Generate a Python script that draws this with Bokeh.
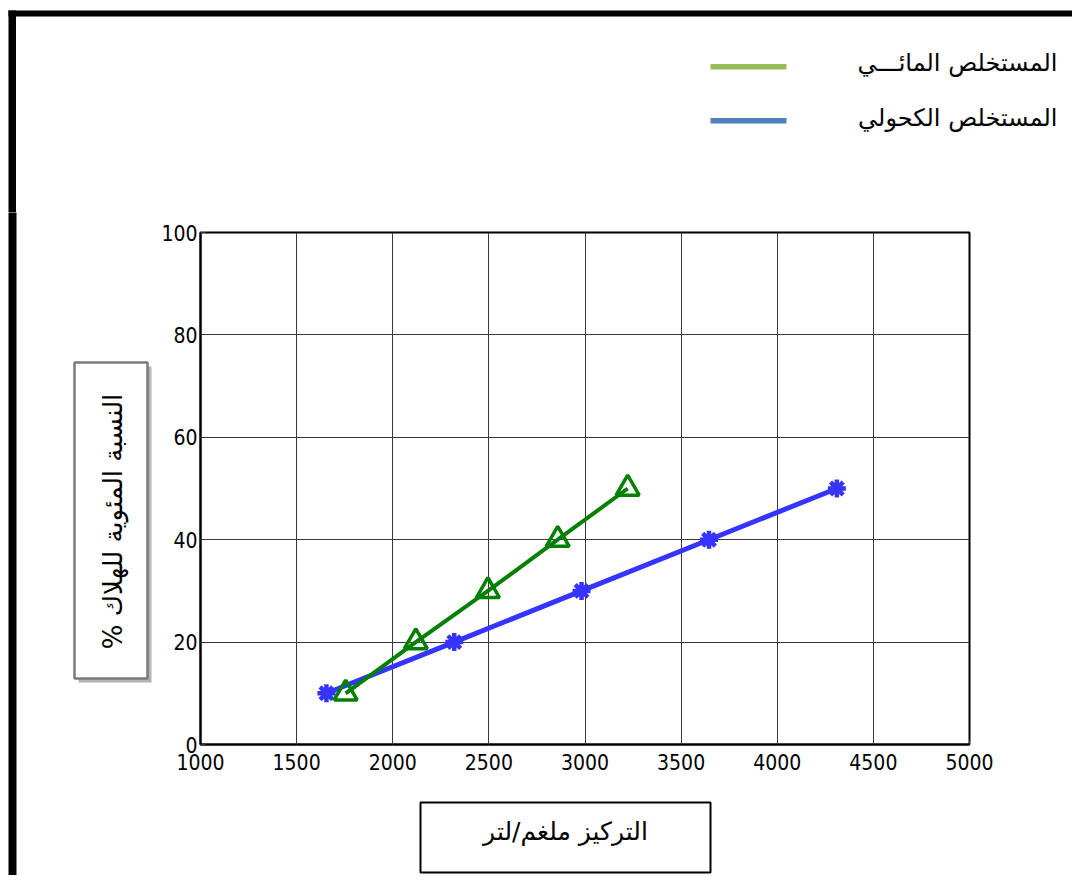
from bokeh.plotting import figure
from bokeh.layouts import column, row
from bokeh.models import Range1d, FixedTicker
from bokeh.core.properties import value
from bokeh.embed import file_html
from bokeh.resources import INLINE

# ---- data ----
aqueous_conc = [1755, 2120, 2495, 2858, 3222]
aqueous_mort = [10, 20, 30, 40, 50]
alcohol_conc = [1655, 2320, 2982, 3645, 4310]
alcohol_mort = [10, 20, 30, 40, 50]
x_ticks = [1000, 1500, 2000, 2500, 3000, 3500, 4000, 4500, 5000]
y_ticks = [0, 20, 40, 60, 80, 100]
legend_labels = ["المستخلص المائـــي", "المستخلص الكحولي"]
legend_colors = ["#9BBB59", "#4F81BD"]
x_title = "التركيز ملغم/لتر"
y_title = "النسبة المئوية للهلاك %\u200f"

W, H = 1072, 875
TOP_H = 212          # height of the top (legend) strip
LEFT_W = 152         # width of the left (y-title) strip
BOT_H = 85           # height of the bottom (x-title) strip
MAIN_W = W - LEFT_W
MAIN_H = H - TOP_H - BOT_H
FL, FR, FT, FB = 200, 969, 232, 744  # frame edges on the page
ARABIC_FONT = value("DejaVu Sans")


def deco(x0, y0, w, h):
    """A decoration canvas whose ranges are page pixels (y downward)."""
    f = figure(width=w, height=h, x_range=Range1d(x0, x0 + w), y_range=Range1d(y0 + h, y0),
               output_backend="svg", toolbar_location=None,
               x_axis_location=None, y_axis_location=None,
               min_border=0, min_border_left=0, min_border_right=0,
               min_border_top=0, min_border_bottom=0, frame_align=False)
    f.title.visible = False
    f.outline_line_color = None
    f.grid.visible = False
    f.background_fill_color = "white"
    f.border_fill_color = "white"
    return f


# ---------- top strip: frame edge + legend ----------
top = deco(0, 0, W, TOP_H)
top.quad(left=[8, 8], right=[W, 15.5], top=[10, 10], bottom=[16, TOP_H + 1],
         fill_color="black", line_color=None)
top.quad(left=[710, 710], right=[786, 786], top=[63.5, 117.5], bottom=[69, 123],
         fill_color=legend_colors, line_color=None)
top.text(x=[1057, 1057], y=[62, 117], text=legend_labels, text_align="right",
         text_baseline="middle", text_font=ARABIC_FONT, text_font_size="24px", text_color="black")

# ---------- left strip: frame edge + y title box ----------
left = deco(0, TOP_H, LEFT_W, H - TOP_H)
left.quad(left=[8], right=[16], top=[TOP_H - 1], bottom=[H], fill_color="black", line_color=None)
left.quad(left=[78], right=[151], top=[366], bottom=[682], fill_color="#b4b4b4", line_color=None)
left.quad(left=[74], right=[147], top=[362], bottom=[678], fill_color="white",
          line_color="#7a7a7a", line_width=2.5)
left.text(x=[112], y=[521], text=[y_title], angle=1.5707963, text_align="center",
          text_baseline="middle", text_font=ARABIC_FONT, text_font_size="26px", text_color="black")

# ---------- bottom strip: x title box ----------
bottom = deco(LEFT_W, H - BOT_H, MAIN_W, BOT_H)
bottom.quad(left=[420], right=[710], top=[802], bottom=[872], fill_color="white",
            line_color="black", line_width=2)
bottom.text(x=[565], y=[831], text=[x_title], text_align="center", text_baseline="middle",
            text_font=ARABIC_FONT, text_font_size="25px", text_color="black")

# ---------- main chart ----------
p = figure(width=MAIN_W, height=MAIN_H, x_range=Range1d(1000, 5000), y_range=Range1d(0, 100),
           output_backend="svg", toolbar_location=None, frame_align=False,
           min_border_left=FL - LEFT_W, min_border_right=W - FR,
           min_border_top=FT - TOP_H, min_border_bottom=(H - BOT_H) - FB)
p.title.visible = False
p.background_fill_color = "white"
p.border_fill_color = "white"
p.outline_line_color = "black"
p.outline_line_width = 2

TICK_FONT = "Liberation Sans Narrow, DejaVu Sans Condensed, Liberation Sans, Arial"
for ax, ticks in ((p.xaxis[0], x_ticks), (p.yaxis[0], y_ticks)):
    ax.ticker = FixedTicker(ticks=ticks)
    ax.minor_tick_line_color = None
    ax.major_tick_in = 5
    ax.major_tick_out = 0
    ax.major_tick_line_color = "#333333"
    ax.axis_line_color = "black"
    ax.axis_line_width = 2
    ax.major_label_text_font = TICK_FONT
    ax.major_label_text_font_size = "21px"
    ax.major_label_text_color = "black"
p.xaxis.major_label_standoff = 9
p.yaxis.major_label_standoff = 3

p.grid.grid_line_color = "#3a3a3a"
p.grid.grid_line_width = 1
p.grid.grid_line_alpha = 1
p.xgrid.ticker = FixedTicker(ticks=x_ticks)
p.ygrid.ticker = FixedTicker(ticks=y_ticks)

p.line(alcohol_conc, alcohol_mort, line_color="#3535ff", line_width=5)
p.scatter(alcohol_conc, alcohol_mort, marker="asterisk", size=18, line_color="#3535ff", line_width=4.5)
p.line(aqueous_conc, aqueous_mort, line_color="#008000", line_width=4)
p.scatter(aqueous_conc, aqueous_mort, marker="triangle", size=23, fill_color=None,
          line_color="#008000", line_width=3.5)

layout = column(top, row(left, column(p, bottom, spacing=0), spacing=0), spacing=0)

open("out.html", "w").write(file_html(layout, INLINE))
